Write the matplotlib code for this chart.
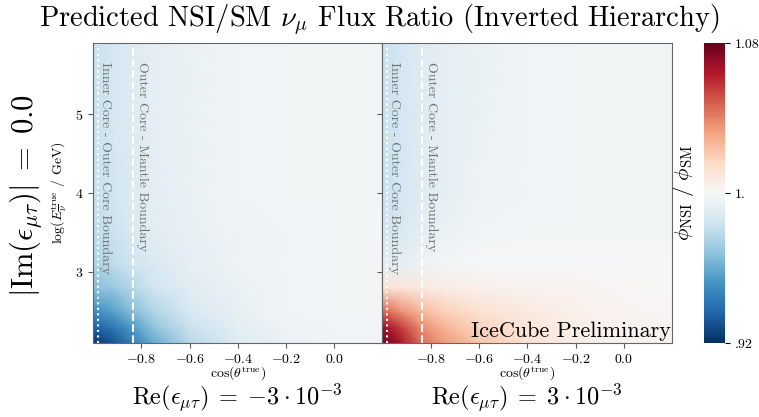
import numpy as np
import matplotlib

matplotlib.use("Agg")
import matplotlib.pyplot as plt

plt.rcParams["font.family"] = "serif"
plt.rcParams["font.serif"] = ["cmr10"]
plt.rcParams["mathtext.fontset"] = "cm"
plt.rcParams["axes.formatter.use_mathtext"] = True
plt.rcParams["axes.unicode_minus"] = True

cos_nodes = [-1.0, -0.98, -0.92, -0.837, -0.75, -0.6, -0.4, -0.2, 0.0, 0.2]
loge_nodes = [2.1, 2.3, 2.5, 2.8, 3.1, 3.5, 4.0, 5.0, 5.9]

# Re(eps_mutau) = -3e-3
ratio_neg = [
    [0.922, 0.924, 0.930, 0.945, 0.960, 0.978, 0.990, 0.995, 0.997, 0.998],
    [0.935, 0.937, 0.942, 0.955, 0.968, 0.983, 0.992, 0.996, 0.997, 0.998],
    [0.950, 0.952, 0.956, 0.966, 0.976, 0.987, 0.994, 0.997, 0.998, 0.998],
    [0.966, 0.967, 0.970, 0.977, 0.984, 0.991, 0.995, 0.997, 0.998, 0.998],
    [0.975, 0.976, 0.979, 0.984, 0.988, 0.993, 0.996, 0.997, 0.998, 0.998],
    [0.979, 0.980, 0.983, 0.987, 0.991, 0.994, 0.996, 0.997, 0.998, 0.998],
    [0.981, 0.982, 0.985, 0.989, 0.992, 0.995, 0.997, 0.998, 0.998, 0.998],
    [0.982, 0.983, 0.986, 0.990, 0.993, 0.995, 0.997, 0.998, 0.998, 0.998],
    [0.982, 0.983, 0.986, 0.990, 0.993, 0.995, 0.997, 0.998, 0.998, 0.998],
]

# Re(eps_mutau) = +3e-3
ratio_pos = [
    [1.078, 1.076, 1.065, 1.045, 1.035, 1.022, 1.012, 1.006, 1.003, 1.002],
    [1.068, 1.066, 1.055, 1.038, 1.028, 1.018, 1.010, 1.005, 1.003, 1.002],
    [1.045, 1.044, 1.036, 1.026, 1.019, 1.012, 1.007, 1.004, 1.002, 1.001],
    [1.012, 1.012, 1.010, 1.008, 1.006, 1.004, 1.003, 1.002, 1.001, 1.000],
    [0.992, 0.992, 0.993, 0.996, 0.998, 0.999, 0.999, 0.999, 0.999, 0.999],
    [0.984, 0.985, 0.988, 0.992, 0.995, 0.997, 0.998, 0.998, 0.998, 0.998],
    [0.982, 0.983, 0.986, 0.990, 0.993, 0.996, 0.997, 0.998, 0.998, 0.998],
    [0.982, 0.983, 0.986, 0.990, 0.993, 0.995, 0.997, 0.998, 0.998, 0.998],
    [0.982, 0.983, 0.986, 0.990, 0.993, 0.995, 0.997, 0.998, 0.998, 0.998],
]

panel_labels = [
    r"$\mathrm{Re}(\epsilon_{\mu\tau})\;=\;{-3}\cdot 10^{-3}$",
    r"$\mathrm{Re}(\epsilon_{\mu\tau})\;=\;3\cdot 10^{-3}$",
]
inner_core = -0.98
outer_core = -0.837
xticks = [-0.8, -0.6, -0.4, -0.2, 0.0]
yticks = [3, 4, 5]
vmin, vmax = 0.92, 1.08

W, H = 759, 417
fig = plt.figure(figsize=(W / 100, H / 100), dpi=100)
ax_l = fig.add_axes([93.3 / W, 74 / H, 289 / W, 300 / H])
ax_r = fig.add_axes([382.3 / W, 74 / H, 290 / W, 300 / H])
cax = fig.add_axes([704 / W, 74 / H, 21 / W, 300 / H])

X, Y = np.meshgrid(cos_nodes, loge_nodes)
for ax, data, lab in zip([ax_l, ax_r], [ratio_neg, ratio_pos], panel_labels):
    mesh = ax.pcolormesh(
        X, Y, np.array(data), cmap="RdBu_r", vmin=vmin, vmax=vmax,
        shading="gouraud", rasterized=True,
    )
    ax.set_xlim(-1.0, 0.2)
    ax.set_ylim(2.1, 5.9)
    ax.axvline(inner_core, color="white", ls=":", lw=1.5)
    ax.axvline(outer_core, color="white", ls="--", lw=1.5)
    ax.text(-0.952, 5.66, "Inner Core - Outer Core Boundary", rotation=-90,
            ha="center", va="top", color="0.45", fontsize=10)
    ax.text(-0.797, 5.66, "Outer Core - Mantle Boundary", rotation=-90,
            ha="center", va="top", color="0.45", fontsize=10)
    ax.set_xticks(xticks)
    ax.set_yticks(yticks)
    ax.tick_params(labelsize=10, color="0.35")
    for s in ax.spines.values():
        s.set_color("0.4")
    ax.set_xlabel(r"$\cos(\theta^{\mathrm{true}})$", fontsize=10, labelpad=-1)
    ax.text(0.5, -0.238, lab, transform=ax.transAxes, ha="center", va="bottom",
            fontsize=17.5)

ax_r.set_yticklabels([])
ax_l.set_ylabel(r"$\log(E_{\overline{\nu}}^{\mathrm{true}}$ / GeV)", fontsize=10)
fig.text(26 / W, 1 - 196 / H, r"$|\mathrm{Im}(\epsilon_{\mu\tau})|\;=\;0.0$",
         rotation=90, ha="center", va="center", fontsize=22)
ax_r.text(0.995, 0.008, "IceCube Preliminary", transform=ax_r.transAxes,
          ha="right", va="bottom", fontsize=16)

cb = fig.colorbar(mesh, cax=cax)
cb.set_ticks([0.92, 1.0, 1.08])
cb.set_ticklabels([".92", "1.", "1.08"])
cb.ax.tick_params(labelsize=10)
cb.outline.set_visible(False)
cb.ax.yaxis.set_label_position("left")
cb.set_label(r"$\phi_{\mathrm{NSI}}\ /\ \phi_{\mathrm{SM}}$", fontsize=15, labelpad=6)

fig.text(0.5, 1 - 20 / H, r"Predicted NSI/SM $\nu_\mu$ Flux Ratio (Inverted Hierarchy)",
         ha="center", va="center", fontsize=20.5)

fig.savefig("out.png", dpi=100)
